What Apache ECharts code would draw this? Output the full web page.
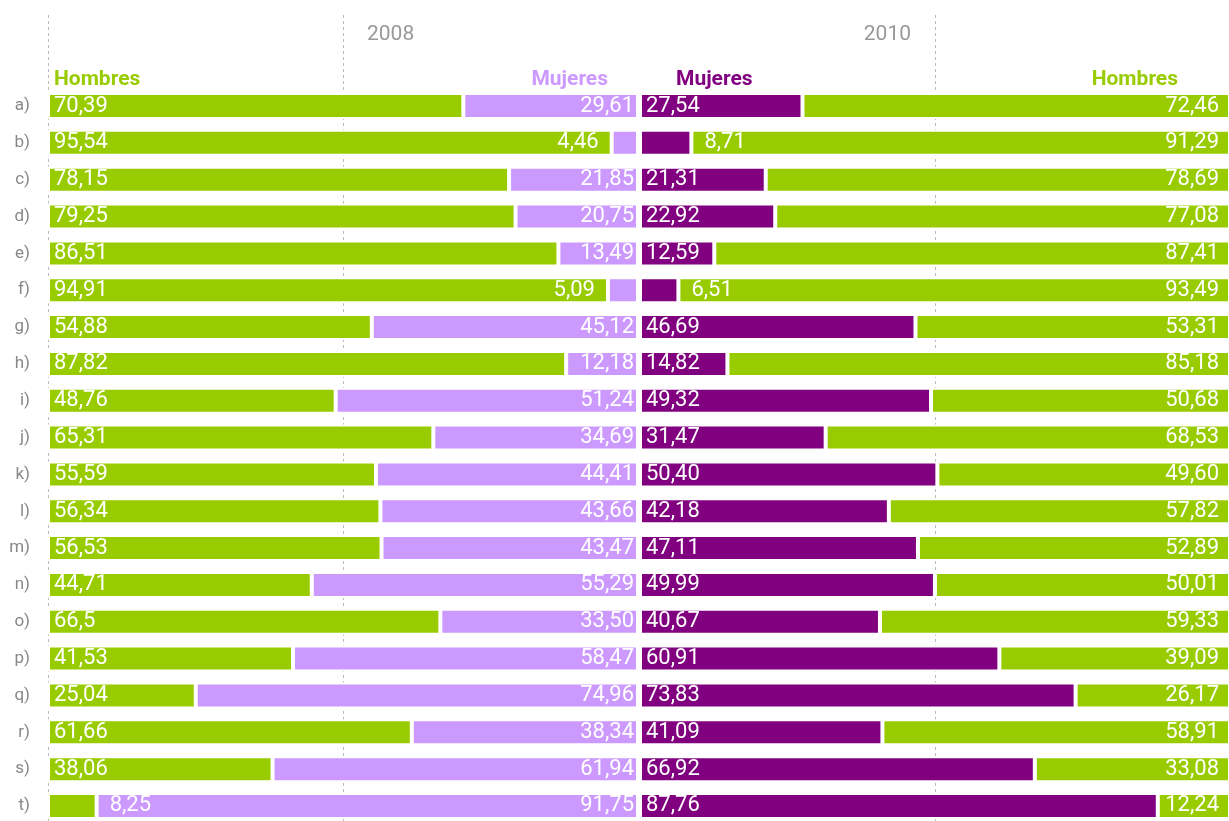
<!DOCTYPE html>
<html>
<head>
<meta charset="utf-8">
<script src="https://cdn.jsdelivr.net/npm/echarts@6/dist/echarts.min.js"></script>
<style>
html,body{margin:0;padding:0;background:#fff;}
#chart{width:1229px;height:821px;}
</style>
</head>
<body>
<div id="chart"></div>
<script>
// ---- data (as printed on the chart) ----
const categories = ['a)','b)','c)','d)','e)','f)','g)','h)','i)','j)','k)','l)','m)','n)','o)','p)','q)','r)','s)','t)'];
const hombres2008 = ['70,39','95,54','78,15','79,25','86,51','94,91','54,88','87,82','48,76','65,31','55,59','56,34','56,53','44,71','66,5','41,53','25,04','61,66','38,06','8,25'];
const mujeres2008 = ['29,61','4,46','21,85','20,75','13,49','5,09','45,12','12,18','51,24','34,69','44,41','43,66','43,47','55,29','33,50','58,47','74,96','38,34','61,94','91,75'];
const mujeres2010 = ['27,54','8,71','21,31','22,92','12,59','6,51','46,69','14,82','49,32','31,47','50,40','42,18','47,11','49,99','40,67','60,91','73,83','41,09','66,92','87,76'];
const hombres2010 = ['72,46','91,29','78,69','77,08','87,41','93,49','53,31','85,18','50,68','68,53','49,60','57,82','52,89','50,01','59,33','39,09','26,17','58,91','33,08','12,24'];
const years = ['2008','2010'];
const seriesNames = ['Hombres','Mujeres'];

const GREEN = '#99cc00', LILAC = '#cc99ff', PURPLE = '#800080';
const toNum = s => parseFloat(s.replace(',', '.'));

function makeData(arr, outsidePos) {
  return arr.map(s => {
    const v = toNum(s);
    if (v < 10) {
      return { value: v, label: { position: outsidePos, distance: 13 } };
    }
    return { value: v };
  });
}

function barSeries(name, arr, color, gridIdx, stack, insidePos, insideDist, outsidePos) {
  return {
    name: name,
    type: 'bar',
    xAxisIndex: gridIdx,
    yAxisIndex: gridIdx,
    stack: stack,
    barWidth: 26,
    itemStyle: { color: color, borderColor: '#fff', borderWidth: 2 },
    label: {
      show: true,
      position: insidePos,
      distance: insideDist,
      color: '#fff',
      fontSize: 22,
      fontFamily: 'Roboto',
      padding: [2, 0, 0, 0],
      formatter: p => arr[p.dataIndex]
    },
    data: makeData(arr, outsidePos),
    z: 3
  };
}

const BAR_TOP = 87.6, BAR_H = 736.8;

const option = {
  animation: false,
  backgroundColor: '#fff',
  grid: [
    { left: 48, width: 590, top: BAR_TOP, height: BAR_H, outerBoundsMode: 'none' },
    { left: 640, width: 590, top: BAR_TOP, height: BAR_H, outerBoundsMode: 'none' },
    { left: 48, width: 590, top: 15, bottom: 0, outerBoundsMode: 'none' },
    { left: 640, width: 590, top: 15, bottom: 0, outerBoundsMode: 'none' }
  ],
  xAxis: [0,1,2,3].map(i => ({
    type: 'value', gridIndex: i, min: 0, max: 100, interval: 50,
    axisLine: { show: false }, axisTick: { show: false }, axisLabel: { show: false },
    splitLine: {
      show: i >= 2,
      lineStyle: {
        color: i === 2 ? ['#bbb', '#bbb', 'rgba(0,0,0,0)'] : ['rgba(0,0,0,0)', '#bbb', 'rgba(0,0,0,0)'],
        type: [3, 3], width: 1
      }
    }
  })),
  yAxis: [0,1,2,3].map(i => ({
    type: 'category', gridIndex: i, inverse: true, data: categories,
    axisLine: { show: false }, axisTick: { show: false },
    splitLine: { show: false },
    axisLabel: {
      show: i === 0, color: '#888', fontSize: 17, fontFamily: 'Roboto', margin: 18,
      padding: [5, 0, 0, 0]
    }
  })),
  series: [
    barSeries(seriesNames[0] + ' ' + years[0], hombres2008, GREEN, 0, 'l', 'insideLeft', 6, 'right'),
    barSeries(seriesNames[1] + ' ' + years[0], mujeres2008, LILAC, 0, 'l', 'insideRight', 4, 'left'),
    barSeries(seriesNames[1] + ' ' + years[1], mujeres2010, PURPLE, 1, 'r', 'insideLeft', 6, 'right'),
    barSeries(seriesNames[0] + ' ' + years[1], hombres2010, GREEN, 1, 'r', 'insideRight', 11, 'left')
  ],
  graphic: [
    { type: 'text', x: 367, y: 35, style: { text: years[0], fill: '#999', font: '21px Roboto', align: 'left', verticalAlign: 'middle', textAlign: 'left', textVerticalAlign: 'middle' } },
    { type: 'text', x: 911, y: 35, style: { text: years[1], fill: '#999', font: '21px Roboto', align: 'right', verticalAlign: 'middle', textAlign: 'right', textVerticalAlign: 'middle' } },
    { type: 'text', x: 54, y: 80, style: { text: seriesNames[0], fill: GREEN, font: 'bold 21px Roboto', align: 'left', verticalAlign: 'middle', textAlign: 'left', textVerticalAlign: 'middle' } },
    { type: 'text', x: 608, y: 80, style: { text: seriesNames[1], fill: LILAC, font: 'bold 21px Roboto', align: 'right', verticalAlign: 'middle', textAlign: 'right', textVerticalAlign: 'middle' } },
    { type: 'text', x: 676, y: 80, style: { text: seriesNames[1], fill: PURPLE, font: 'bold 21px Roboto', align: 'left', verticalAlign: 'middle', textAlign: 'left', textVerticalAlign: 'middle' } },
    { type: 'text', x: 1178, y: 80, style: { text: seriesNames[0], fill: GREEN, font: 'bold 21px Roboto', align: 'right', verticalAlign: 'middle', textAlign: 'right', textVerticalAlign: 'middle' } }
  ]
};

const chart = echarts.init(document.getElementById('chart'), null, { renderer: 'canvas' });
chart.setOption(option);
</script>
</body>
</html>
